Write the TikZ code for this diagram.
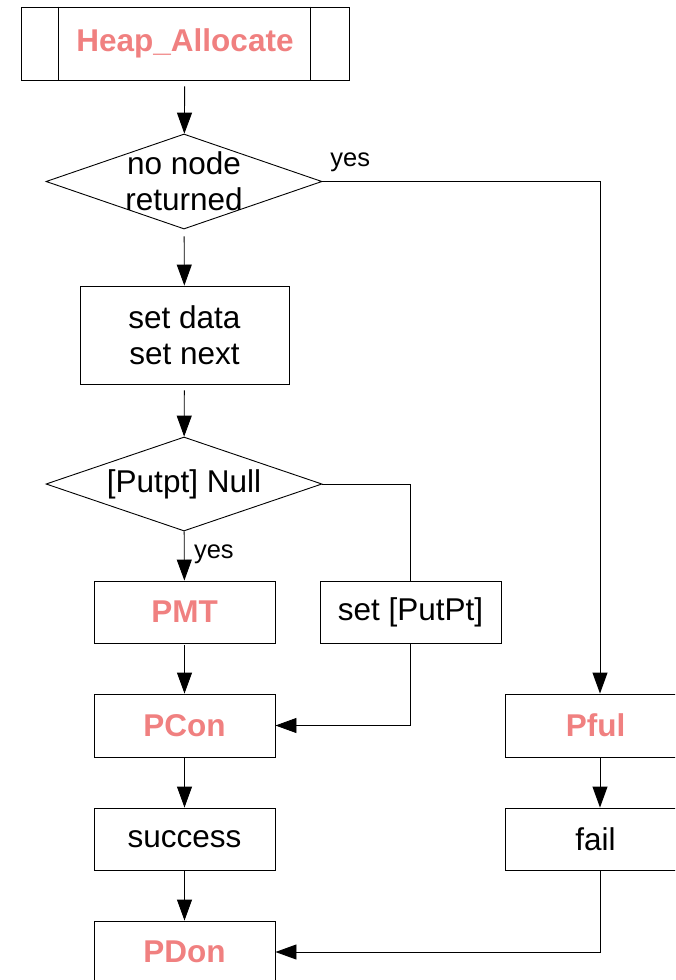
\documentclass[tikz,border=0pt]{standalone}
\usepackage{fontspec}
\setmainfont{Liberation Sans}
\usetikzlibrary{shapes.geometric,arrows.meta}
\definecolor{callred}{RGB}{240,128,128}

\begin{document}
\begin{tikzpicture}[x=1pt, y=-1pt, line width=0.9pt,
    every node/.style={font=\fontsize{31.5}{36}\selectfont, align=center},
    box/.style={draw, rectangle, minimum width=181pt, minimum height=62pt, inner sep=0pt},
    call/.style={box, text=callred, font=\fontsize{31.5}{36}\selectfont\bfseries},
    decision/.style={draw, diamond, minimum width=276pt, minimum height=95pt, inner sep=0pt},
    flow/.style={-{Triangle[length=21pt,width=15pt]}},
    tag/.style={font=\fontsize{25.5}{28}\selectfont}]
    \useasboundingbox (0,0) rectangle (675,980);
    \clip (0,0) rectangle (675,980);

    % Title.
    \node[call, minimum width=328pt, minimum height=73pt] (heap) at (185,43.5) {Heap\_Allocate};
    \draw ([xshift=38pt]heap.north west) -- ([xshift=38pt]heap.south west);
    \draw ([xshift=-39pt]heap.north east) -- ([xshift=-39pt]heap.south east);

    % Left column.
    \node[decision, label={center:no node\\returned}] (noNode) at (184,181.5) {};
    \node[box, minimum width=209pt, minimum height=98pt] (setData) at (184.5,335) {set data\\set next};
    \node[decision, minimum height=94pt, label={center:[Putpt] Null}] (putNull) at (184,484) {};
    \node[call] (pmt) at (184.5,612) {PMT};
    \node[call, minimum height=63pt] (pcon) at (184.5,725.5) {PCon};
    \node[box] (success) at (184.5,839) {success};
    \node[call] (pdon) at (184.5,952) {PDon};

    % Middle column.
    \node[box] (setPut) at (410.5,612) {set [PutPt]};

    % Right column.
    \coordinate (right) at (600,0);
    \node[call, minimum height=63pt] (pful) at (595.5,725.5) {Pful};
    \node[box] (fail) at (595.5,839) {fail};

    % Arrows down the left column.
    \draw[flow, shorten <=6pt] (heap) -- (noNode);
    \draw[flow, shorten <=7pt] (noNode) -- (setData);
    \draw[flow, shorten <=6pt] (setData) -- (putNull);
    \draw[flow] (putNull) -- node[tag, right, pos=0.4, xshift=6pt, yshift=-3pt] {yes} (pmt);
    \draw[flow, shorten <=2pt] (pmt) -- (pcon);
    \draw[flow] (pcon) -- (success);
    \draw[flow] (success) -- (pdon);

    % Branches.
    \draw[flow] (noNode.east) -- node[tag, above, pos=0.1, yshift=6pt] {yes} (right |- noNode.east) -- (right |- pful.north);
    \draw (putNull.east) -- (setPut.north |- putNull.east) -- (setPut.north);
    \draw[flow] (setPut.south) -- (setPut.south |- pcon.east) -- (pcon.east);
    \draw[flow] (right |- pful.south) -- (right |- fail.north);
    \draw[flow] (right |- fail.south) -- (right |- pdon.east) -- (pdon.east);

\end{tikzpicture}
\end{document}
